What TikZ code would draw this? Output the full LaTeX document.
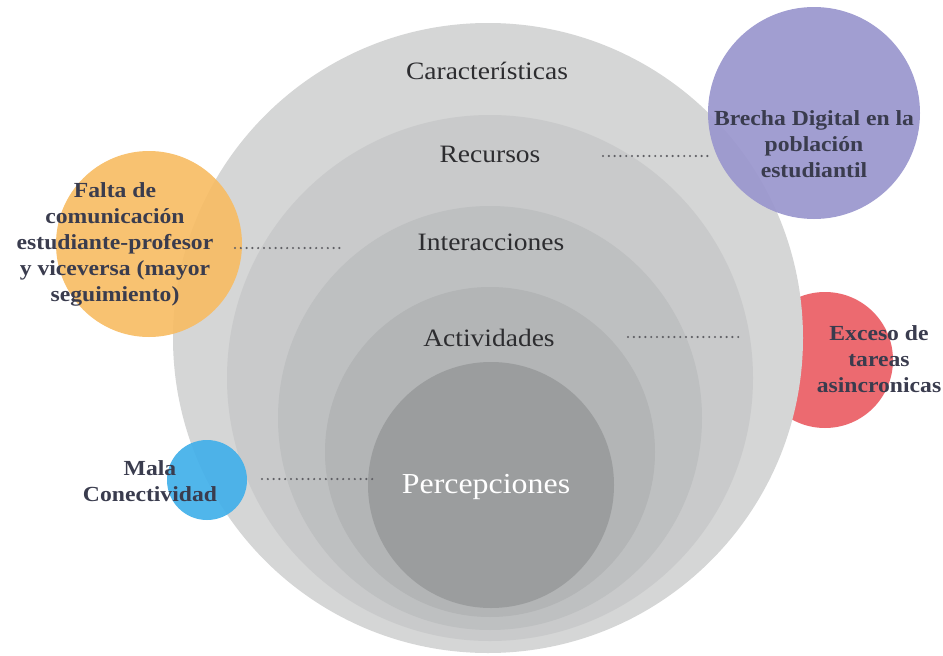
\documentclass[tikz,border=0pt]{standalone}
\usepackage{fontspec}
\setmainfont{Liberation Serif}[FakeStretch=1.1]
\definecolor{gA}{RGB}{213,214,214}
\definecolor{gB}{RGB}{201,202,203}
\definecolor{gC}{RGB}{190,192,193}
\definecolor{gD}{RGB}{179,181,182}
\definecolor{gE}{RGB}{155,157,158}
\definecolor{cPurple}{RGB}{154,150,206}
\definecolor{cOrange}{RGB}{248,188,98}
\definecolor{cRed}{RGB}{236,106,112}
\definecolor{cBlue}{RGB}{66,176,234}
\definecolor{txtDark}{RGB}{45,45,48}
\definecolor{txtSide}{RGB}{58,60,78}
\definecolor{dotc}{RGB}{95,95,100}
\begin{document}
\begin{tikzpicture}[x=1pt,y=-1pt,
  ring/.style={circle, inner sep=0pt, draw=none},
  ringlabel/.style={inner sep=0pt, text=txtDark, font=\fontsize{25}{30}\selectfont},
  sidelabel/.style={inner sep=0pt, align=center, text=txtSide, font=\bfseries\fontsize{21.5}{26}\selectfont},
  dotline/.style={draw=dotc, line width=2.4pt, dash pattern=on 0pt off 5.8pt, line cap=round}]
\useasboundingbox (0,0) rectangle (943,656);
\fill[white] (0,0) rectangle (943,656);
% red circle lies behind the grey rings
\node[ring, fill=cRed, minimum size=136pt] (red) at (825,360) {};
% nested grey rings
\node[ring, fill=gA, minimum size=630pt] (cCar) at (488,338) {};
\node[ring, fill=gB, minimum size=526pt] (cRec) at (490,378) {};
\node[ring, fill=gC, minimum size=424pt] (cInt) at (490,418) {};
\node[ring, fill=gD, minimum size=330pt] (cAct) at (490,452) {};
\node[ring, fill=gE, minimum size=246pt] (cPer) at (491,485) {};
% ring labels
\node[ringlabel] (lCar) at (487,71) {Características};
\node[ringlabel] (lRec) at (490,154) {Recursos};
\node[ringlabel] (lInt) at (491,242) {Interacciones};
\node[ringlabel] (lAct) at (489,338) {Actividades};
\node[ringlabel, text=white, font=\fontsize{29}{34}\selectfont] (lPer) at (486,487) {Percepciones};
% coloured circles in front
\node[ring, fill=cPurple, fill opacity=0.92, minimum size=212pt] (purple) at (814,113) {};
\node[ring, fill=cOrange, fill opacity=0.9, minimum size=186pt] (orange) at (149,244) {};
\node[ring, fill=cBlue, fill opacity=0.92, minimum size=80pt] (blue) at (207,480) {};
% dotted connectors
\coordinate (dRecA) at (603,156);
\coordinate (dRecB) at (711,156);
\coordinate (dIntA) at (235,248);
\coordinate (dIntB) at (345,248);
\coordinate (dActA) at (628,337);
\coordinate (dActB) at (740,337);
\coordinate (dPerA) at (262,479);
\coordinate (dPerB) at (373,479);
\draw[dotline] (dRecA) -- (dRecB);
\draw[dotline] (dIntA) -- (dIntB);
\draw[dotline] (dActA) -- (dActB);
\draw[dotline] (dPerA) -- (dPerB);
% side labels
\node[sidelabel] (tPurple) at (814,144) {Brecha Digital en la\\población\\estudiantil};
\node[sidelabel] (tOrange) at (115,244) {Falta de\\comunicación\\estudiante-profesor\\y viceversa (mayor\\seguimiento)};
\node[sidelabel] (tRed) at (879,359) {Exceso de\\tareas\\asincronicas};
\node[sidelabel] (tBlue) at (150,481) {Mala\\Conectividad};
\end{tikzpicture}
\end{document}
